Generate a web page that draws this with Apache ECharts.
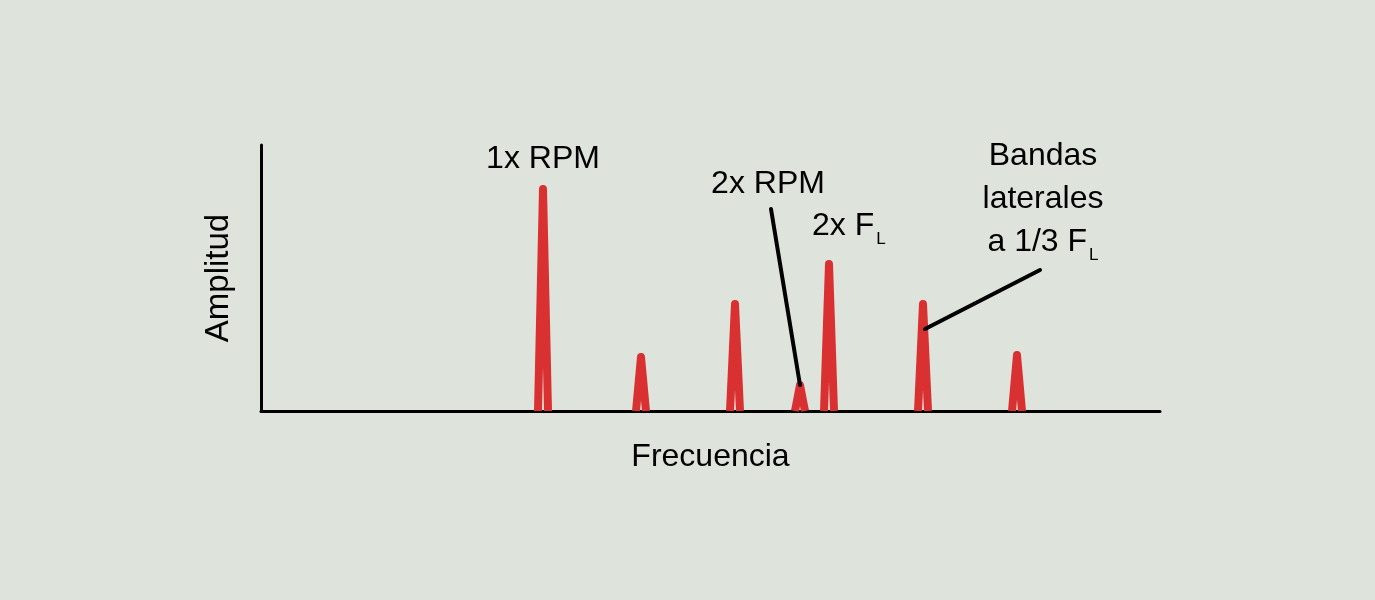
<!DOCTYPE html>
<html>
<head>
<meta charset="utf-8">
<script src="https://cdn.jsdelivr.net/npm/echarts@6/dist/echarts.min.js"></script>
<style>
html,body{margin:0;padding:0;background:#dee4db;}
#chart{width:1375px;height:600px;}
</style>
</head>
<body>
<div id="chart"></div>
<script>
// Peak positions (frequency units) and amplitudes
const peakFreq = [282, 380, 474, 539, 568, 662, 756];
const peakAmp  = [222, 54, 107, 26, 147, 107, 56];
const peakHalfWidth = 5;

// Leader lines (data coords)
const leaderRPM2   = [[510, 202], [539, 26]];
const leaderBandas = [[664, 82], [779, 141]];

// Annotation labels
const labelTexts = ['1x RPM', '2x RPM', '{m|2x F}{s|L}', '{m|Bandas}\n{m|laterales}\n{m|a 1/3 F}{s|L}'];
const labelPos   = [[282, 252], [507, 227], [551, 185], [782, 212]];
const labelAlign = ['center', 'center', 'left', 'center'];

const axisNames = {x: 'Frecuencia', y: 'Amplitud'};

const RED = '#d93131';
const FONT = '"Liberation Sans", Arial, sans-serif';

const series = [];
peakFreq.forEach((f, i) => {
  series.push({
    type: 'line',
    data: [[f - peakHalfWidth, 0], [f, peakAmp[i]], [f + peakHalfWidth, 0]],
    symbol: 'none',
    lineStyle: {color: RED, width: 8, join: 'round', cap: 'butt'},
    z: 2,
    animation: false,
    silent: true
  });
});
[leaderRPM2, leaderBandas].forEach(d => {
  series.push({
    type: 'line', data: d, symbol: 'none',
    lineStyle: {color: '#000', width: 4, cap: 'round'},
    z: 3, animation: false, silent: true
  });
});
const txt = {color: '#000', fontFamily: FONT, textBorderWidth: 0, textShadowBlur: 0};
series.push({
  type: 'scatter',
  symbolSize: 0,
  clip: false,
  animation: false,
  silent: true,
  itemStyle: {color: 'rgba(0,0,0,0)', opacity: 1},
  data: labelPos.map((p, i) => ({
    value: p,
    label: Object.assign({
      show: true, position: 'inside', formatter: labelTexts[i], align: labelAlign[i],
      verticalAlign: 'middle', fontSize: 32, lineHeight: 43,
      rich: {
        m: Object.assign({fontSize: 32, lineHeight: 43}, txt),
        s: Object.assign({fontSize: 17, lineHeight: 43, verticalAlign: 'bottom', padding: [0, 0, 0, 2]}, txt)
      }
    }, txt)
  }))
});

const chart = echarts.init(document.getElementById('chart'), null, {renderer: 'canvas'});
chart.setOption({
  backgroundColor: '#dee4db',
  grid: {left: 261, right: 215, top: 145, bottom: 189, containLabel: false},
  xAxis: {
    type: 'value', min: 0, max: 899,
    name: axisNames.x, nameLocation: 'middle', nameGap: 30,
    nameTextStyle: {fontFamily: FONT, fontSize: 32, color: '#000'},
    axisLine: {show: true, onZero: false, lineStyle: {color: '#000', width: 3}},
    axisTick: {show: false}, axisLabel: {show: false}, splitLine: {show: false}
  },
  yAxis: {
    type: 'value', min: 0, max: 266,
    name: axisNames.y, nameLocation: 'middle', nameGap: 26, nameRotate: 90,
    nameTextStyle: {fontFamily: FONT, fontSize: 33, color: '#000'},
    axisLine: {show: true, onZero: false, lineStyle: {color: '#000', width: 3}},
    axisTick: {show: false}, axisLabel: {show: false}, splitLine: {show: false}
  },
  series: series
});
</script>
</body>
</html>
